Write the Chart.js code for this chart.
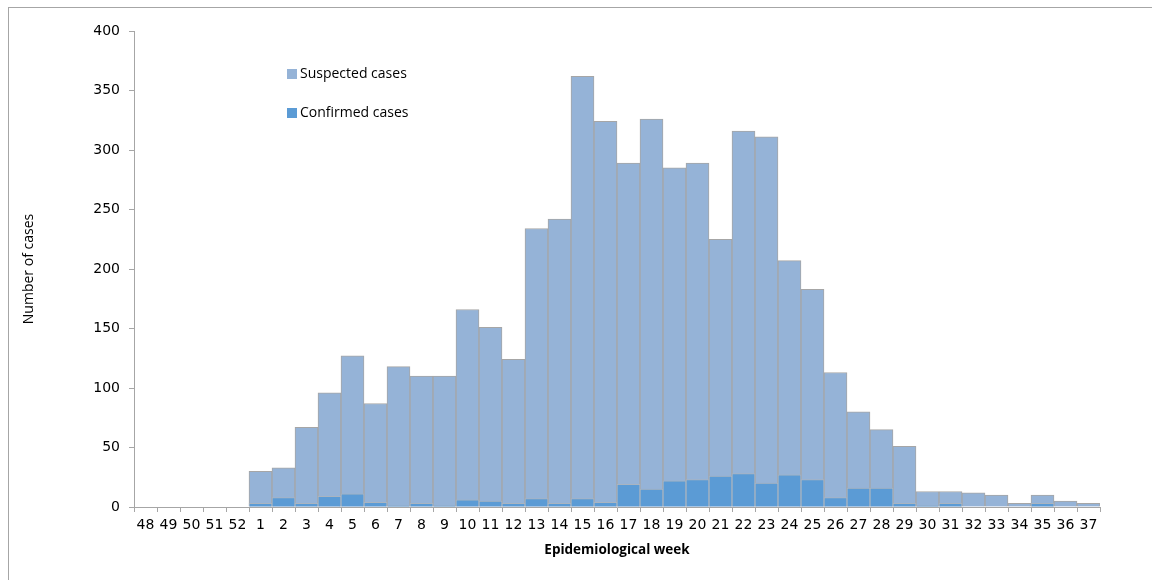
<!DOCTYPE html>
<html lang="en">
<head>
    <meta charset="UTF-8">
    <title>Cases by epidemiological week</title>
    <script src="https://cdn.jsdelivr.net/npm/chart.js@4.4.1/dist/chart.umd.js"></script>
    <style>
        html, body { margin: 0; padding: 0; background: #fff; }
        #wrap { position: relative; width: 1152px; height: 580px; overflow: hidden; }
        #frame { position: absolute; left: 8px; top: 7px; width: 1200px; height: 600px;
                 border-top: 1px solid #a6a6a6; border-left: 1px solid #a6a6a6; }
        canvas { position: absolute; left: 0; top: 0; }
    </style>
</head>
<body>
    <div id="wrap">
        <div id="frame"></div>
        <canvas id="chart" width="1152" height="580"></canvas>
    </div>

    <script>
        // weeks 48-52 of previous year, then 1-37
        const weeks = ['48', '49', '50', '51', '52',
            '1', '2', '3', '4', '5', '6', '7', '8', '9', '10', '11', '12', '13', '14', '15', '16',
            '17', '18', '19', '20', '21', '22', '23', '24', '25', '26', '27', '28', '29', '30',
            '31', '32', '33', '34', '35', '36', '37'];

        const suspected = [null, null, null, null, null,
            30, 33, 67, 96, 127, 87, 118, 110, 110, 166, 151, 124, 234, 242, 362, 324,
            289, 326, 285, 289, 225, 316, 311, 207, 183, 113, 80, 65, 51, 13,
            13, 12, 10, 3, 10, 5, 3];

        const confirmed = [null, null, null, null, null,
            3, 8, 3, 9, 11, 4, 1, 3, 1, 6, 5, 3, 7, 3, 7, 4,
            19, 15, 22, 23, 26, 28, 20, 27, 23, 8, 16, 16, 3, 1,
            3, 0, 0, 0, 3, 0, 0];

        const yTicks = [0, 50, 100, 150, 200, 250, 300, 350, 400];

        const axisGray = '#a6a6a6';

        // legend drawn inside the plot area, like the original
        const innerLegend = {
            id: 'innerLegend',
            afterDraw(chart) {
                const ctx = chart.ctx;
                const items = [chart.data.datasets[1], chart.data.datasets[0]];
                const x = chart.chartArea.left + 153;
                let y = chart.chartArea.top + 43;
                ctx.save();
                ctx.font = '14px "Open Sans"';
                ctx.textBaseline = 'middle';
                items.forEach(ds => {
                    ctx.fillStyle = ds.backgroundColor;
                    ctx.fillRect(x, y - 5, 10, 10);
                    ctx.fillStyle = '#000';
                    ctx.fillText(ds.label, x + 13, y);
                    y += 39;
                });
                ctx.restore();
            }
        };

        const ctx = document.getElementById('chart').getContext('2d');
        new Chart(ctx, {
            type: 'bar',
            data: {
                labels: weeks,
                datasets: [
                    {
                        label: 'Confirmed cases',
                        data: confirmed,
                        backgroundColor: '#5b9bd5',
                        borderColor: '#a9b4c0',
                        borderWidth: 1,
                        order: 0
                    },
                    {
                        label: 'Suspected cases',
                        data: suspected,
                        backgroundColor: '#95b3d7',
                        borderColor: '#a6a6a6',
                        borderWidth: 1,
                        order: 1
                    }
                ]
            },
            options: {
                responsive: false,
                animation: false,
                layout: { padding: { left: 0, top: 31, right: 52, bottom: 0 } },
                datasets: {
                    bar: { grouped: false, categoryPercentage: 1.0, barPercentage: 1.0 }
                },
                plugins: {
                    legend: { display: false },
                    tooltip: { enabled: false }
                },
                scales: {
                    x: {
                        afterFit(scale) { scale.height = 73; },
                        grid: { offset: true, drawOnChartArea: false, tickLength: 5, color: axisGray },
                        border: { color: axisGray },
                        ticks: {
                            autoSkip: false, maxRotation: 0, padding: 5, color: '#000',
                            font: { family: 'DejaVu Sans', size: 14 }
                        },
                        title: {
                            display: true, text: 'Epidemiological week', color: '#000',
                            padding: { top: 0, bottom: 22 },
                            font: { family: 'Open Sans', size: 13.5, weight: 'bold' }
                        }
                    },
                    y: {
                        min: 0, max: 400,
                        afterFit(scale) { scale.width = 134; },
                        afterBuildTicks(scale) { scale.ticks = yTicks.map(v => ({ value: v })); },
                        grid: { drawOnChartArea: false, tickLength: 5, color: axisGray },
                        border: { color: axisGray },
                        ticks: {
                            padding: 9, color: '#000',
                            font: { family: 'DejaVu Sans', size: 14 }
                        },
                        title: {
                            display: true, text: 'Number of cases', color: '#000',
                            padding: { top: 21, bottom: 0 },
                            font: { family: 'Open Sans', size: 14 }
                        }
                    }
                }
            },
            plugins: [innerLegend]
        });
    </script>
</body>
</html>
